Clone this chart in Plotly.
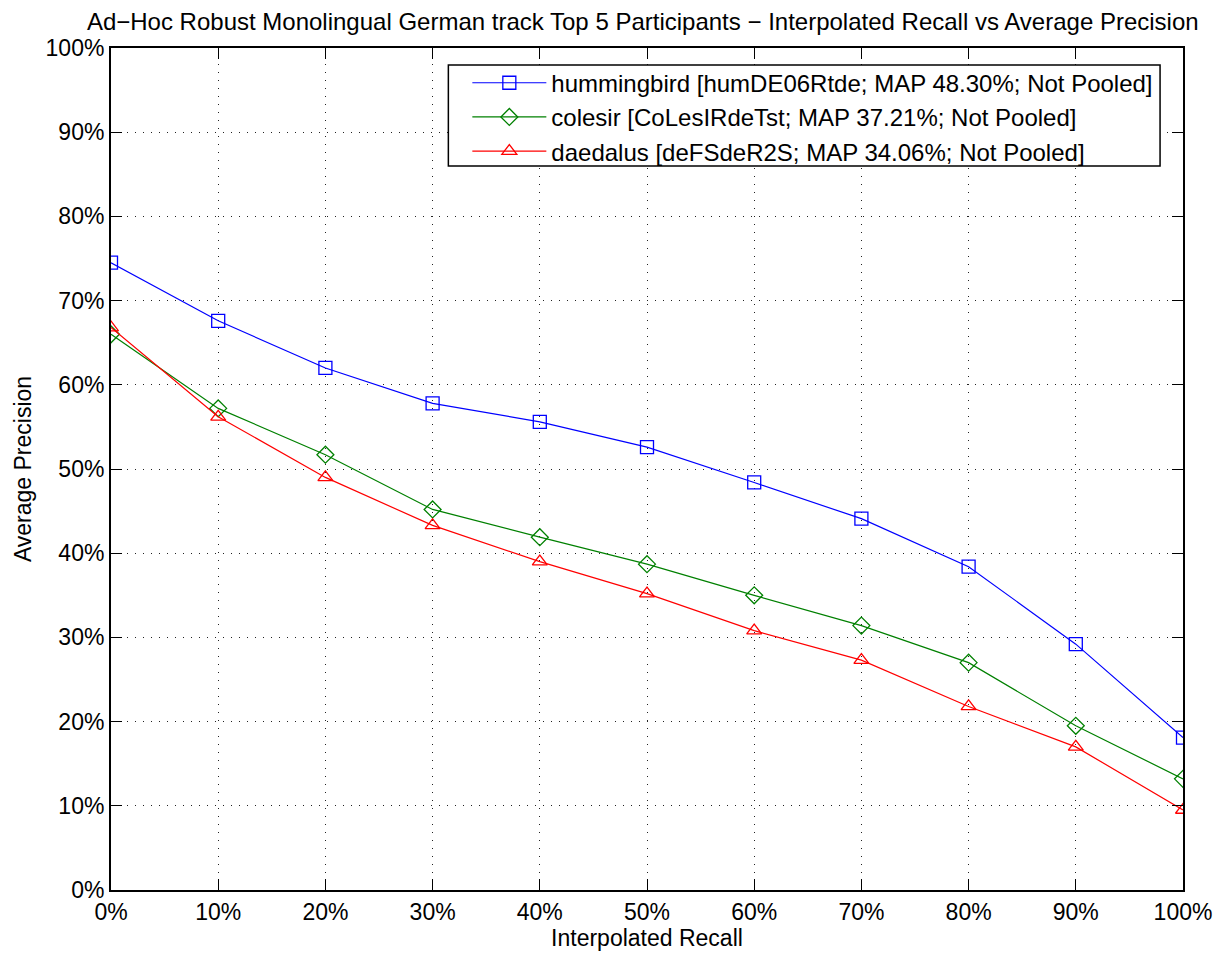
import plotly.graph_objects as go

recall = [0, 10, 20, 30, 40, 50, 60, 70, 80, 90, 100]
hummingbird = [74.5, 67.6, 62.0, 57.8, 55.6, 52.6, 48.4, 44.1, 38.4, 29.2, 18.1]
colesir = [66.0, 57.2, 51.7, 45.2, 41.9, 38.7, 35.0, 31.4, 27.0, 19.5, 13.2]
daedalus = [66.8, 56.2, 49.0, 43.3, 39.0, 35.2, 30.8, 27.3, 21.8, 17.0, 9.5]

names = [
    "hummingbird [humDE06Rtde; MAP 48.30%; Not Pooled]",
    "colesir [CoLesIRdeTst; MAP 37.21%; Not Pooled]",
    "daedalus [deFSdeR2S; MAP 34.06%; Not Pooled]",
]
tick_vals = [0, 10, 20, 30, 40, 50, 60, 70, 80, 90, 100]
tick_text = ["0%", "10%", "20%", "30%", "40%", "50%", "60%", "70%", "80%", "90%", "100%"]

series = [
    (hummingbird, names[0], "#0000ff", "square-open"),
    (colesir, names[1], "#008000", "diamond-open"),
    (daedalus, names[2], "#ff0000", "triangle-up-open"),
]

fig = go.Figure()
for ys, nm, col, sym in series:
    fig.add_trace(go.Scatter(
        x=recall, y=ys, name=nm, mode="lines+markers",
        line=dict(color=col, width=1.2),
        marker=dict(symbol=sym, size=13, color=col, line=dict(color=col, width=1.3)),
    ))

font = "Liberation Sans, Arial, Helvetica, sans-serif"
axis_common = dict(
    showline=True, linecolor="black", linewidth=2, mirror="ticks",
    ticks="inside", ticklen=11, tickcolor="black", tickwidth=1,
    showgrid=True, gridcolor="#222222", griddash="1px,7px", gridwidth=1,
    zeroline=False, tickvals=tick_vals, ticktext=tick_text,
    tickfont=dict(size=23, color="black", family=font),
)

# legend frame (MATLAB-style box with left padding)
fig.add_shape(type="rect", xref="paper", yref="paper",
              x0=0.3147, x1=0.9786, y0=0.86, y1=0.9799,
              line=dict(color="black", width=1.5), fillcolor="white", layer="above")

fig.update_layout(
    width=1216, height=947,
    margin=dict(l=103, r=39, t=40, b=58),
    paper_bgcolor="white", plot_bgcolor="white",
    font=dict(family=font, color="black", size=23),
    title=dict(text="Ad\u2212Hoc Robust Monolingual German track Top 5 Participants \u2212 Interpolated Recall vs Average Precision",
               x=0.522, xanchor="center", y=0.995, yanchor="top",
               font=dict(size=24, color="black", family=font)),
    xaxis=dict(range=[0, 100], title=dict(text="Interpolated Recall", standoff=2,
                                          font=dict(size=23)), **axis_common),
    yaxis=dict(range=[0, 100], title=dict(text="Average Precision", standoff=8,
                                          font=dict(size=23)), **axis_common),
    legend=dict(x=0.3324, xanchor="left", y=0.985, yanchor="top",
                bgcolor="rgba(0,0,0,0)", borderwidth=0,
                font=dict(size=24, color="black", family=font),
                itemwidth=74, tracegroupgap=0),
    showlegend=True,
)
fig.write_html("out.html")
